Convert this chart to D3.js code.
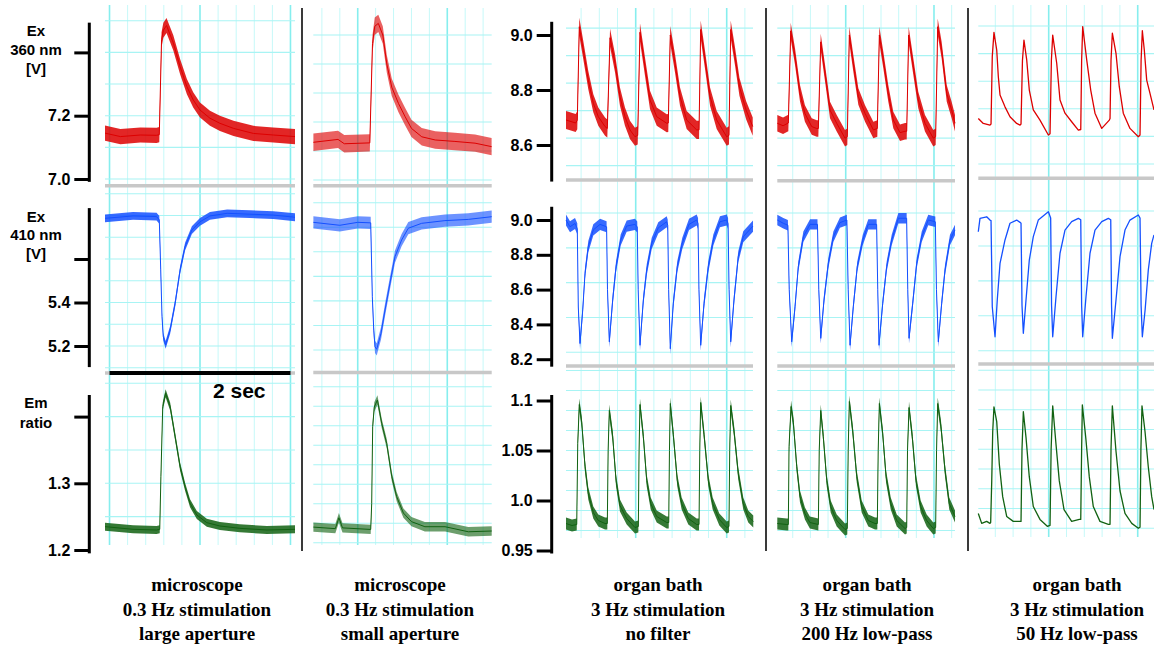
<!DOCTYPE html>
<html>
<head>
<meta charset="utf-8">
<script src="https://cdn.jsdelivr.net/npm/d3@7"></script>
<style>
  body { margin: 0; background: #fff; }
  svg { display: block; background: #fff; }
  .tick text, .tlab { font-family: "Liberation Sans", Arial, sans-serif; font-weight: bold; font-size: 16px; fill: #000; }
  .ylab { font-family: "Liberation Sans", Arial, sans-serif; font-weight: bold; font-size: 15px; }
  .cap { font-family: "Liberation Serif", "Times New Roman", serif; font-weight: bold; font-size: 19px; }
  .sec { font-family: "Liberation Sans", Arial, sans-serif; font-weight: bold; font-size: 21px; }
</style>
</head>
<body>
<svg id="chart" width="1154" height="646"></svg>
<script>
// ---------- data (time in s, value) ----------
const columnTitles = [
  ["microscope", "0.3 Hz stimulation", "large aperture"],
  ["microscope", "0.3 Hz stimulation", "small aperture"],
  ["organ bath", "3 Hz stimulation", "no filter"],
  ["organ bath", "3 Hz stimulation", "200 Hz low-pass"],
  ["organ bath", "3 Hz stimulation", "50 Hz low-pass"]
];
const rowLabels = [["Ex", "360 nm", "[V]"], ["Ex", "410 nm", "[V]"], ["Em", "ratio"]];

const ticks360 = [7.0, 7.2, 7.4], labels360 = ["7.0", "7.2", ""];
const ticks410 = [5.2, 5.4, 5.6], labels410 = ["5.2", "5.4", ""];
const ticksEm = [1.2, 1.3, 1.4], labelsEm = ["1.2", "1.3", ""];
const ticks360Bath = [8.6, 8.8, 9.0], labels360Bath = ["8.6", "8.8", "9.0"];
const ticks410Bath = [8.2, 8.4, 8.6, 8.8, 9.0], labels410Bath = ["8.2", "8.4", "8.6", "8.8", "9.0"];
const ticksEmBath = [0.95, 1.0, 1.05, 1.1], labelsEmBath = ["0.95", "1.0", "1.05", "1.1"];

const ex360Large = [[-0.05,7.145],[0.12,7.134],[0.34,7.139],[0.52,7.138],[0.55,7.14],[0.575,7.44],[0.595,7.47],[0.63,7.485],[0.705,7.43],[0.78,7.355],[0.855,7.292],[0.925,7.25],[1.0,7.218],[1.11,7.192],[1.22,7.176],[1.37,7.16],[1.59,7.144],[1.81,7.139],[2.05,7.134]];
const ex410Large = [[-0.05,5.787],[0.26,5.798],[0.52,5.795],[0.55,5.78],[0.566,5.55],[0.58,5.335],[0.594,5.243],[0.62,5.205],[0.67,5.274],[0.725,5.396],[0.78,5.549],[0.835,5.657],[0.91,5.733],[1.0,5.771],[1.11,5.798],[1.3,5.81],[1.55,5.806],[1.81,5.802],[2.05,5.792]];
const emLarge = [[-0.05,1.235],[0.26,1.231],[0.52,1.23],[0.555,1.231],[0.568,1.31],[0.588,1.415],[0.62,1.435],[0.67,1.415],[0.725,1.37],[0.78,1.325],[0.835,1.295],[0.89,1.27],[0.965,1.2525],[1.075,1.241],[1.22,1.236],[1.44,1.2325],[1.74,1.23],[2.05,1.231]];

const ex360Small = [[0.505,7.13],[0.78,7.14],[0.85,7.125],[1.135,7.128],[1.165,7.47],[1.19,7.53],[1.23,7.54],[1.28,7.5],[1.325,7.40],[1.38,7.32],[1.455,7.264],[1.53,7.218],[1.6,7.178],[1.715,7.149],[1.865,7.138],[2.085,7.133],[2.31,7.127],[2.495,7.115]];
const ex410Small = [[0.505,5.72],[0.8,5.708],[1.0,5.72],[1.145,5.718],[1.163,5.417],[1.179,5.281],[1.193,5.213],[1.212,5.203],[1.26,5.268],[1.305,5.363],[1.36,5.472],[1.416,5.58],[1.49,5.648],[1.565,5.696],[1.714,5.716],[1.974,5.727],[2.234,5.732],[2.496,5.743]];
const emSmall = [[0.505,1.22],[0.75,1.218],[0.79,1.232],[0.83,1.219],[1.145,1.217],[1.156,1.25],[1.167,1.349],[1.185,1.374],[1.22,1.383],[1.268,1.353],[1.324,1.327],[1.38,1.285],[1.435,1.259],[1.51,1.238],[1.6,1.227],[1.75,1.2205],[1.975,1.2205],[2.235,1.214],[2.496,1.215]];

const ex360Bath = [[0.234,8.691],[0.34,8.68],[0.358,8.69],[0.38,9.03],[0.424,8.945],[0.479,8.836],[0.534,8.752],[0.589,8.703],[0.663,8.667],[0.688,8.66],[0.718,8.99],[0.773,8.897],[0.827,8.776],[0.882,8.703],[0.937,8.655],[0.992,8.63],[1.022,8.635],[1.047,9.01],[1.102,8.885],[1.157,8.764],[1.231,8.703],[1.341,8.679],[1.358,8.68],[1.38,9.0],[1.432,8.897],[1.487,8.776],[1.56,8.691],[1.67,8.655],[1.696,8.655],[1.714,9.02],[1.762,8.909],[1.817,8.776],[1.89,8.691],[2.0,8.63],[2.025,8.635],[2.044,9.02],[2.092,8.921],[2.14,8.812],[2.213,8.727],[2.286,8.667]];
const ex410Bath = [[0.234,9.0],[0.278,8.961],[0.333,8.98],[0.358,8.95],[0.369,8.5],[0.388,8.29],[0.418,8.483],[0.443,8.694],[0.479,8.847],[0.534,8.943],[0.608,8.975],[0.68,8.961],
  [0.69,8.6],[0.71,8.3],[0.747,8.54],[0.784,8.732],[0.835,8.885],[0.901,8.965],[0.992,8.975],[1.017,8.96],
  [1.027,8.6],[1.047,8.28],[1.084,8.54],[1.121,8.713],[1.176,8.866],[1.248,8.955],[1.341,8.99],[1.352,8.97],
  [1.362,8.6],[1.38,8.26],[1.413,8.521],[1.457,8.732],[1.512,8.866],[1.586,8.975],[1.67,9.0],[1.685,8.98],
  [1.695,8.6],[1.714,8.28],[1.751,8.521],[1.798,8.732],[1.853,8.885],[1.926,8.99],[2.0,9.0],[2.015,8.98],
  [2.026,8.6],[2.044,8.3],[2.08,8.54],[2.127,8.789],[2.182,8.904],[2.289,8.965]];
const emBath = [[0.234,0.977],[0.3,0.975],[0.352,0.976],[0.363,1.057],[0.38,1.096],[0.407,1.078],[0.443,1.034],[0.479,1.007],[0.534,0.988],[0.589,0.98],[0.663,0.977],
  [0.688,0.977],[0.697,1.05],[0.71,1.09],[0.747,1.064],[0.784,1.02],[0.827,0.995],[0.901,0.982],[0.992,0.973],
  [1.029,0.974],[1.037,1.05],[1.047,1.096],[1.084,1.064],[1.121,1.02],[1.165,0.997],[1.231,0.984],[1.341,0.978],
  [1.363,0.978],[1.371,1.05],[1.38,1.097],[1.413,1.066],[1.457,1.02],[1.505,0.997],[1.578,0.982],[1.67,0.976],
  [1.696,0.976],[1.704,1.05],[1.714,1.098],[1.751,1.066],[1.798,1.02],[1.846,0.997],[1.919,0.981],[2.0,0.973],
  [2.025,0.974],[2.033,1.05],[2.044,1.095],[2.08,1.07],[2.127,1.027],[2.182,0.997],[2.237,0.984],[2.292,0.979]];

const ex360Filt = [[0.225,8.679],[0.29,8.67],[0.35,8.68],[0.377,9.015],[0.426,8.921],[0.482,8.788],[0.538,8.715],[0.615,8.667],[0.672,8.66],[0.69,8.66],[0.717,8.975],[0.766,8.861],[0.822,8.727],[0.898,8.679],[0.992,8.625],[1.018,8.63],[1.041,9.0],[1.086,8.897],[1.143,8.776],[1.219,8.715],[1.313,8.655],[1.358,8.66],[1.381,9.0],[1.426,8.909],[1.482,8.788],[1.539,8.691],[1.615,8.645],[1.672,8.65],[1.691,8.65],[1.713,9.0],[1.766,8.885],[1.822,8.764],[1.898,8.679],[1.992,8.625],[2.019,8.63],[2.042,9.03],[2.087,8.945],[2.144,8.788],[2.2,8.727],[2.238,8.679]];
const ex410Filt = [[0.225,9.0],[0.293,8.981],[0.345,8.97],[0.36,8.6],[0.388,8.3],[0.426,8.502],[0.463,8.732],[0.52,8.904],[0.596,8.975],[0.68,8.975],
  [0.695,8.6],[0.717,8.32],[0.754,8.54],[0.803,8.751],[0.86,8.904],[0.935,8.985],[1.013,9.0],
  [1.028,8.6],[1.049,8.28],[1.086,8.502],[1.131,8.732],[1.193,8.885],[1.256,8.975],[1.35,8.975],
  [1.363,8.6],[1.377,8.28],[1.419,8.521],[1.464,8.732],[1.521,8.885],[1.596,9.01],[1.69,9.01],
  [1.703,8.6],[1.717,8.32],[1.759,8.521],[1.804,8.751],[1.861,8.904],[1.935,9.0],[2.015,8.99],
  [2.028,8.6],[2.049,8.3],[2.087,8.521],[2.125,8.713],[2.181,8.885],[2.238,8.943]];
const emFilt = [[0.225,0.977],[0.332,0.976],[0.35,0.976],[0.358,1.054],[0.381,1.094],[0.407,1.078],[0.445,1.034],[0.482,1.004],[0.538,0.987],[0.594,0.978],[0.69,0.976],
  [0.7,1.05],[0.717,1.09],[0.746,1.064],[0.785,1.02],[0.83,0.994],[0.898,0.98],[0.992,0.971],[1.018,0.972],
  [1.028,1.05],[1.041,1.099],[1.079,1.07],[1.125,1.024],[1.181,0.994],[1.256,0.98],[1.332,0.977],[1.358,0.977],
  [1.368,1.05],[1.381,1.097],[1.419,1.067],[1.457,1.024],[1.51,0.997],[1.578,0.98],[1.672,0.972],[1.691,0.973],
  [1.7,1.05],[1.717,1.093],[1.754,1.064],[1.796,1.02],[1.849,0.994],[1.917,0.98],[1.992,0.972],[2.019,0.973],
  [2.029,1.05],[2.042,1.097],[2.079,1.074],[2.125,1.03],[2.173,0.997],[2.238,0.984]];

const ex360Slow = [[0.209,8.69],[0.265,8.672],[0.34,8.666],[0.352,8.67],[0.366,8.914],[0.385,9.002],[0.416,8.938],[0.434,8.841],[0.453,8.775],[0.509,8.732],[0.565,8.696],[0.64,8.672],[0.678,8.666],
  [0.689,8.67],[0.705,8.9],[0.722,8.974],[0.753,8.902],[0.782,8.793],[0.827,8.721],[0.902,8.684],[0.996,8.63],
  [1.015,8.635],[1.03,8.9],[1.045,8.992],[1.09,8.89],[1.127,8.757],[1.183,8.709],[1.258,8.678],[1.333,8.648],
  [1.36,8.65],[1.37,8.9],[1.382,9.023],[1.427,8.902],[1.472,8.793],[1.52,8.709],[1.596,8.654],[1.681,8.684],
  [1.689,8.69],[1.7,8.9],[1.715,8.999],[1.756,8.926],[1.793,8.805],[1.838,8.709],[1.913,8.654],[2.007,8.624],
  [2.026,8.63],[2.038,8.9],[2.052,9.008],[2.074,8.938],[2.101,8.829],[2.138,8.781],[2.183,8.721]];
const ex410Slow = [[0.209,8.921],[0.228,8.998],[0.303,9.007],[0.34,8.988],[0.352,8.985],[0.366,8.492],[0.397,8.32],[0.422,8.53],[0.453,8.74],[0.509,8.874],[0.565,8.97],[0.64,8.988],[0.678,8.975],
  [0.689,8.97],[0.7,8.5],[0.715,8.34],[0.745,8.53],[0.782,8.759],[0.827,8.893],[0.883,8.988],[0.996,9.036],
  [1.022,9.0],[1.032,8.5],[1.045,8.32],[1.082,8.549],[1.127,8.798],[1.183,8.931],[1.258,8.979],[1.333,8.998],
  [1.36,8.99],[1.37,8.5],[1.382,8.32],[1.419,8.549],[1.464,8.798],[1.52,8.931],[1.596,8.979],[1.67,8.998],
  [1.697,8.99],[1.706,8.5],[1.715,8.311],[1.756,8.53],[1.801,8.778],[1.857,8.931],[1.913,8.988],[2.007,9.017],
  [2.026,9.0],[2.038,8.5],[2.052,8.32],[2.083,8.473],[2.119,8.702],[2.157,8.855],[2.183,8.903]];
const emSlow = [[0.209,0.985],[0.247,0.975],[0.303,0.977],[0.34,0.975],[0.348,0.976],[0.36,1.018],[0.371,1.068],[0.385,1.093],[0.416,1.078],[0.445,1.035],[0.483,1.002],[0.528,0.982],[0.602,0.977],[0.67,0.977],
  [0.689,0.977],[0.7,1.05],[0.715,1.088],[0.745,1.062],[0.782,1.022],[0.827,0.992],[0.902,0.979],[0.984,0.972],
  [1.015,0.973],[1.027,1.05],[1.045,1.094],[1.082,1.055],[1.119,1.018],[1.172,0.989],[1.258,0.977],[1.344,0.979],
  [1.36,0.979],[1.37,1.05],[1.378,1.095],[1.416,1.062],[1.456,1.022],[1.501,0.992],[1.576,0.977],[1.67,0.974],
  [1.689,0.974],[1.7,1.05],[1.715,1.094],[1.756,1.048],[1.801,1.008],[1.857,0.985],[1.933,0.975],[2.007,0.97],
  [2.026,0.971],[2.036,1.05],[2.048,1.094],[2.082,1.068],[2.119,1.032],[2.157,1.002],[2.183,0.989]];

// ---------- layout ----------
const RED = "#dd0000", BLUE = "#1450ff", GREEN = "#126212";

const cols = [
  {x0: 105,   x1: 295,   t: [-0.05, 2.05],  vg: [0.0, 11], gy: [5, 545], op: 0.85},
  {x0: 313.3, x1: 491.7, t: [0.504, 2.496], vg: [0.6, 10], gy: [8, 545], op: 0.62},
  {x0: 566,   x1: 753,   t: [0.234, 2.289], vg: [0.4, 10], gy: [8, 538], op: 0.85},
  {x0: 777.3, x1: 955,   t: [0.225, 2.238], vg: [0.4, 10], gy: [5, 538], op: 0.85},
  {x0: 978.3, x1: 1154,  t: [0.209, 2.183], vg: [0.4, 10], gy: [5, 537], op: 0}
];

// y: two (value, pixel) anchors; grid: [first, step, count]; bar: grey baseline value
const panels = [
  {c:0, r:0, data: ex360Large, color: RED,   n: 0.024, v: [7.0, 7.5],   y: [179, 20.75],  grid: [7.0, 0.1, 6],   bar: 6.979},
  {c:1, r:0, data: ex360Small, color: RED,   n: 0.03,  v: [7.0, 7.5],   y: [180, 35],     grid: [7.0, 0.1, 6],   bar: 6.98},
  {c:2, r:0, data: ex360Bath,  color: RED,   n: 0.033, v: [8.6, 9.0],   y: [145, 35],     grid: [8.525, 0.1, 6], bar: 8.473},
  {c:3, r:0, data: ex360Filt,  color: RED,   n: 0.03,  v: [8.6, 9.0],   y: [145, 35],     grid: [8.525, 0.1, 6], bar: 8.47},
  {c:4, r:0, data: ex360Slow,  color: RED,   n: 0,     v: [8.525, 9.025], y: [164, 26],   grid: [8.525, 0.1, 6], bar: 8.473},
  {c:0, r:1, data: ex410Large, color: BLUE,  n: 0.018, v: [5.2, 5.4],   y: [346, 302.5],  grid: [5.1, 0.1, 9],   bar: 5.076},
  {c:1, r:1, data: ex410Small, color: BLUE,  n: 0.025, v: [5.2, 5.8],   y: [350, 202.7],  grid: [5.2, 0.1, 7],   bar: 5.108},
  {c:2, r:1, data: ex410Bath,  color: BLUE,  n: 0.032, v: [8.2, 9.0],   y: [359.2, 220],  grid: [8.24, 0.2, 5],  bar: 8.161},
  {c:3, r:1, data: ex410Filt,  color: BLUE,  n: 0.03,  v: [8.2, 9.0],   y: [359.2, 220],  grid: [8.24, 0.2, 5],  bar: 8.161},
  {c:4, r:1, data: ex410Slow,  color: BLUE,  n: 0,     v: [8.24, 9.04], y: [350.7, 211],  grid: [8.24, 0.2, 5],  bar: 8.164},
  {c:0, r:2, data: emLarge,    color: GREEN, n: 0.006, v: [1.2, 1.3],   y: [550, 483.3],  grid: [1.25, 0.05, 5]},
  {c:1, r:2, data: emSmall,    color: GREEN, n: 0.006, v: [1.2, 1.4],   y: [542.7, 386.7], grid: [1.2, 0.025, 9]},
  {c:2, r:2, data: emBath,     color: GREEN, n: 0.006, v: [0.95, 1.0],  y: [550.5, 500.5], grid: [0.97, 0.02, 9]},
  {c:3, r:2, data: emFilt,     color: GREEN, n: 0.006, v: [0.95, 1.0],  y: [550.5, 500.5], grid: [0.97, 0.02, 9]},
  {c:4, r:2, data: emSlow,     color: GREEN, n: 0,     v: [0.97, 1.11], y: [528.3, 390],  grid: [0.97, 0.02, 9]}
];

// axes: on column 0 and column 2
const axes = [
  {c:0, r:0, x: 89.3,  ticks: ticks360,     labels: labels360,     ext: [6.991, 7.494]},
  {c:0, r:1, x: 89.3,  ticks: ticks410,     labels: labels410,     ext: [5.103, 5.834]},
  {c:0, r:2, x: 89.3,  ticks: ticksEm,      labels: labelsEm,      ext: [1.195, 1.4324]},
  {c:2, r:0, x: 551.7, ticks: ticks360Bath, labels: labels360Bath, ext: [8.467, 9.048]},
  {c:2, r:1, x: 551.7, ticks: ticks410Bath, labels: labels410Bath, ext: [8.157, 9.076]},
  {c:2, r:2, x: 551.7, ticks: ticksEmBath,  labels: labelsEmBath,  ext: [0.947, 1.1055]}
];

const svg = d3.select("#chart");

cols.forEach(c => {
  c.x = d3.scaleLinear().domain(c.t).range([c.x0, c.x1]);
  const times = d3.range(c.vg[1]).map(i => +(c.vg[0] + i * 0.2).toFixed(2));
  svg.append("g").selectAll("line").data(times).join("line")
    .attr("x1", d => c.x(d)).attr("x2", d => c.x(d))
    .attr("y1", c.gy[0]).attr("y2", c.gy[1])
    .attr("stroke", d => Math.abs(d - Math.round(d)) < 1e-6 ? "#86eeee" : "#c6f9f9")
    .attr("stroke-width", d => Math.abs(d - Math.round(d)) < 1e-6 ? 1.6 : 1);
});

panels.forEach(p => {
  const c = cols[p.c];
  p.y = d3.scaleLinear().domain(p.v).range(p.y);
  const gv = d3.range(p.grid[2]).map(i => p.grid[0] + i * p.grid[1]);
  svg.append("g").selectAll("line").data(gv).join("line")
    .attr("x1", c.x0).attr("x2", c.x1)
    .attr("y1", d => p.y(d)).attr("y2", d => p.y(d))
    .attr("stroke", "#a8f4f4").attr("stroke-width", 1.1);
  if (p.bar !== undefined) {
    svg.append("line")
      .attr("x1", c.x0).attr("x2", c.x1)
      .attr("y1", p.y(p.bar)).attr("y2", p.y(p.bar))
      .attr("stroke", "#c8c8c8").attr("stroke-width", 3.5);
  }
});

// 2 sec scale bar (col 0, row 1)
{
  const p = panels[5], c = cols[0];
  svg.append("line")
    .attr("x1", c.x(0)).attr("x2", c.x(2))
    .attr("y1", p.y(p.bar)).attr("y2", p.y(p.bar))
    .attr("stroke", "#000").attr("stroke-width", 4);
  svg.append("text").attr("class", "sec").attr("x", 213).attr("y", 398).text("2 sec");
}

// traces
panels.forEach(p => {
  const c = cols[p.c];
  const g = svg.append("g");
  if (p.n > 0) {
    g.append("path").datum(p.data)
      .attr("d", d3.area().x(d => c.x(d[0])).y0(d => p.y(d[1] - p.n)).y1(d => p.y(d[1] + p.n)))
      .attr("fill", p.color).attr("opacity", c.op);
  }
  g.append("path").datum(p.data)
    .attr("d", d3.line().x(d => c.x(d[0])).y(d => p.y(d[1])))
    .attr("fill", "none").attr("stroke", p.color)
    .attr("stroke-width", p.c === 4 ? 1.3 : 1).attr("stroke-linejoin", "round");
});

// axes
axes.forEach(a => {
  const p = panels.find(q => q.c === a.c && q.r === a.r);
  const g = svg.append("g").attr("transform", `translate(${a.x},0)`);
  const ax = d3.axisLeft(p.y).tickValues(a.ticks)
    .tickFormat((d, i) => a.labels[i]).tickSize(15).tickSizeOuter(0).tickPadding(4);
  g.call(ax);
  g.select(".domain").remove();
  g.selectAll(".tick line").attr("stroke", "#000").attr("stroke-width", 3);
  g.append("line").attr("x1", 0).attr("x2", 0)
    .attr("y1", p.y(a.ext[0])).attr("y2", p.y(a.ext[1]))
    .attr("stroke", "#000").attr("stroke-width", 3);
});

// row labels
const rowLabelY = [[36, 55, 74], [221.7, 240, 259], [408, 428]];
rowLabels.forEach((lines, r) => {
  lines.forEach((s, i) => {
    svg.append("text").attr("class", "ylab").attr("x", 36).attr("y", rowLabelY[r][i])
      .attr("text-anchor", "middle").text(s);
  });
});

// column separators
[302, 766, 968].forEach(x => {
  svg.append("line").attr("x1", x).attr("x2", x).attr("y1", 8).attr("y2", 551)
    .attr("stroke", "#3a3a3a").attr("stroke-width", 2);
});

// captions
const capX = [197, 400, 658, 867, 1077];
columnTitles.forEach((lines, i) => {
  lines.forEach((s, j) => {
    svg.append("text").attr("class", "cap").attr("x", capX[i]).attr("y", 591 + j * 24.5)
      .attr("text-anchor", "middle").text(s);
  });
});
</script>
</body>
</html>
